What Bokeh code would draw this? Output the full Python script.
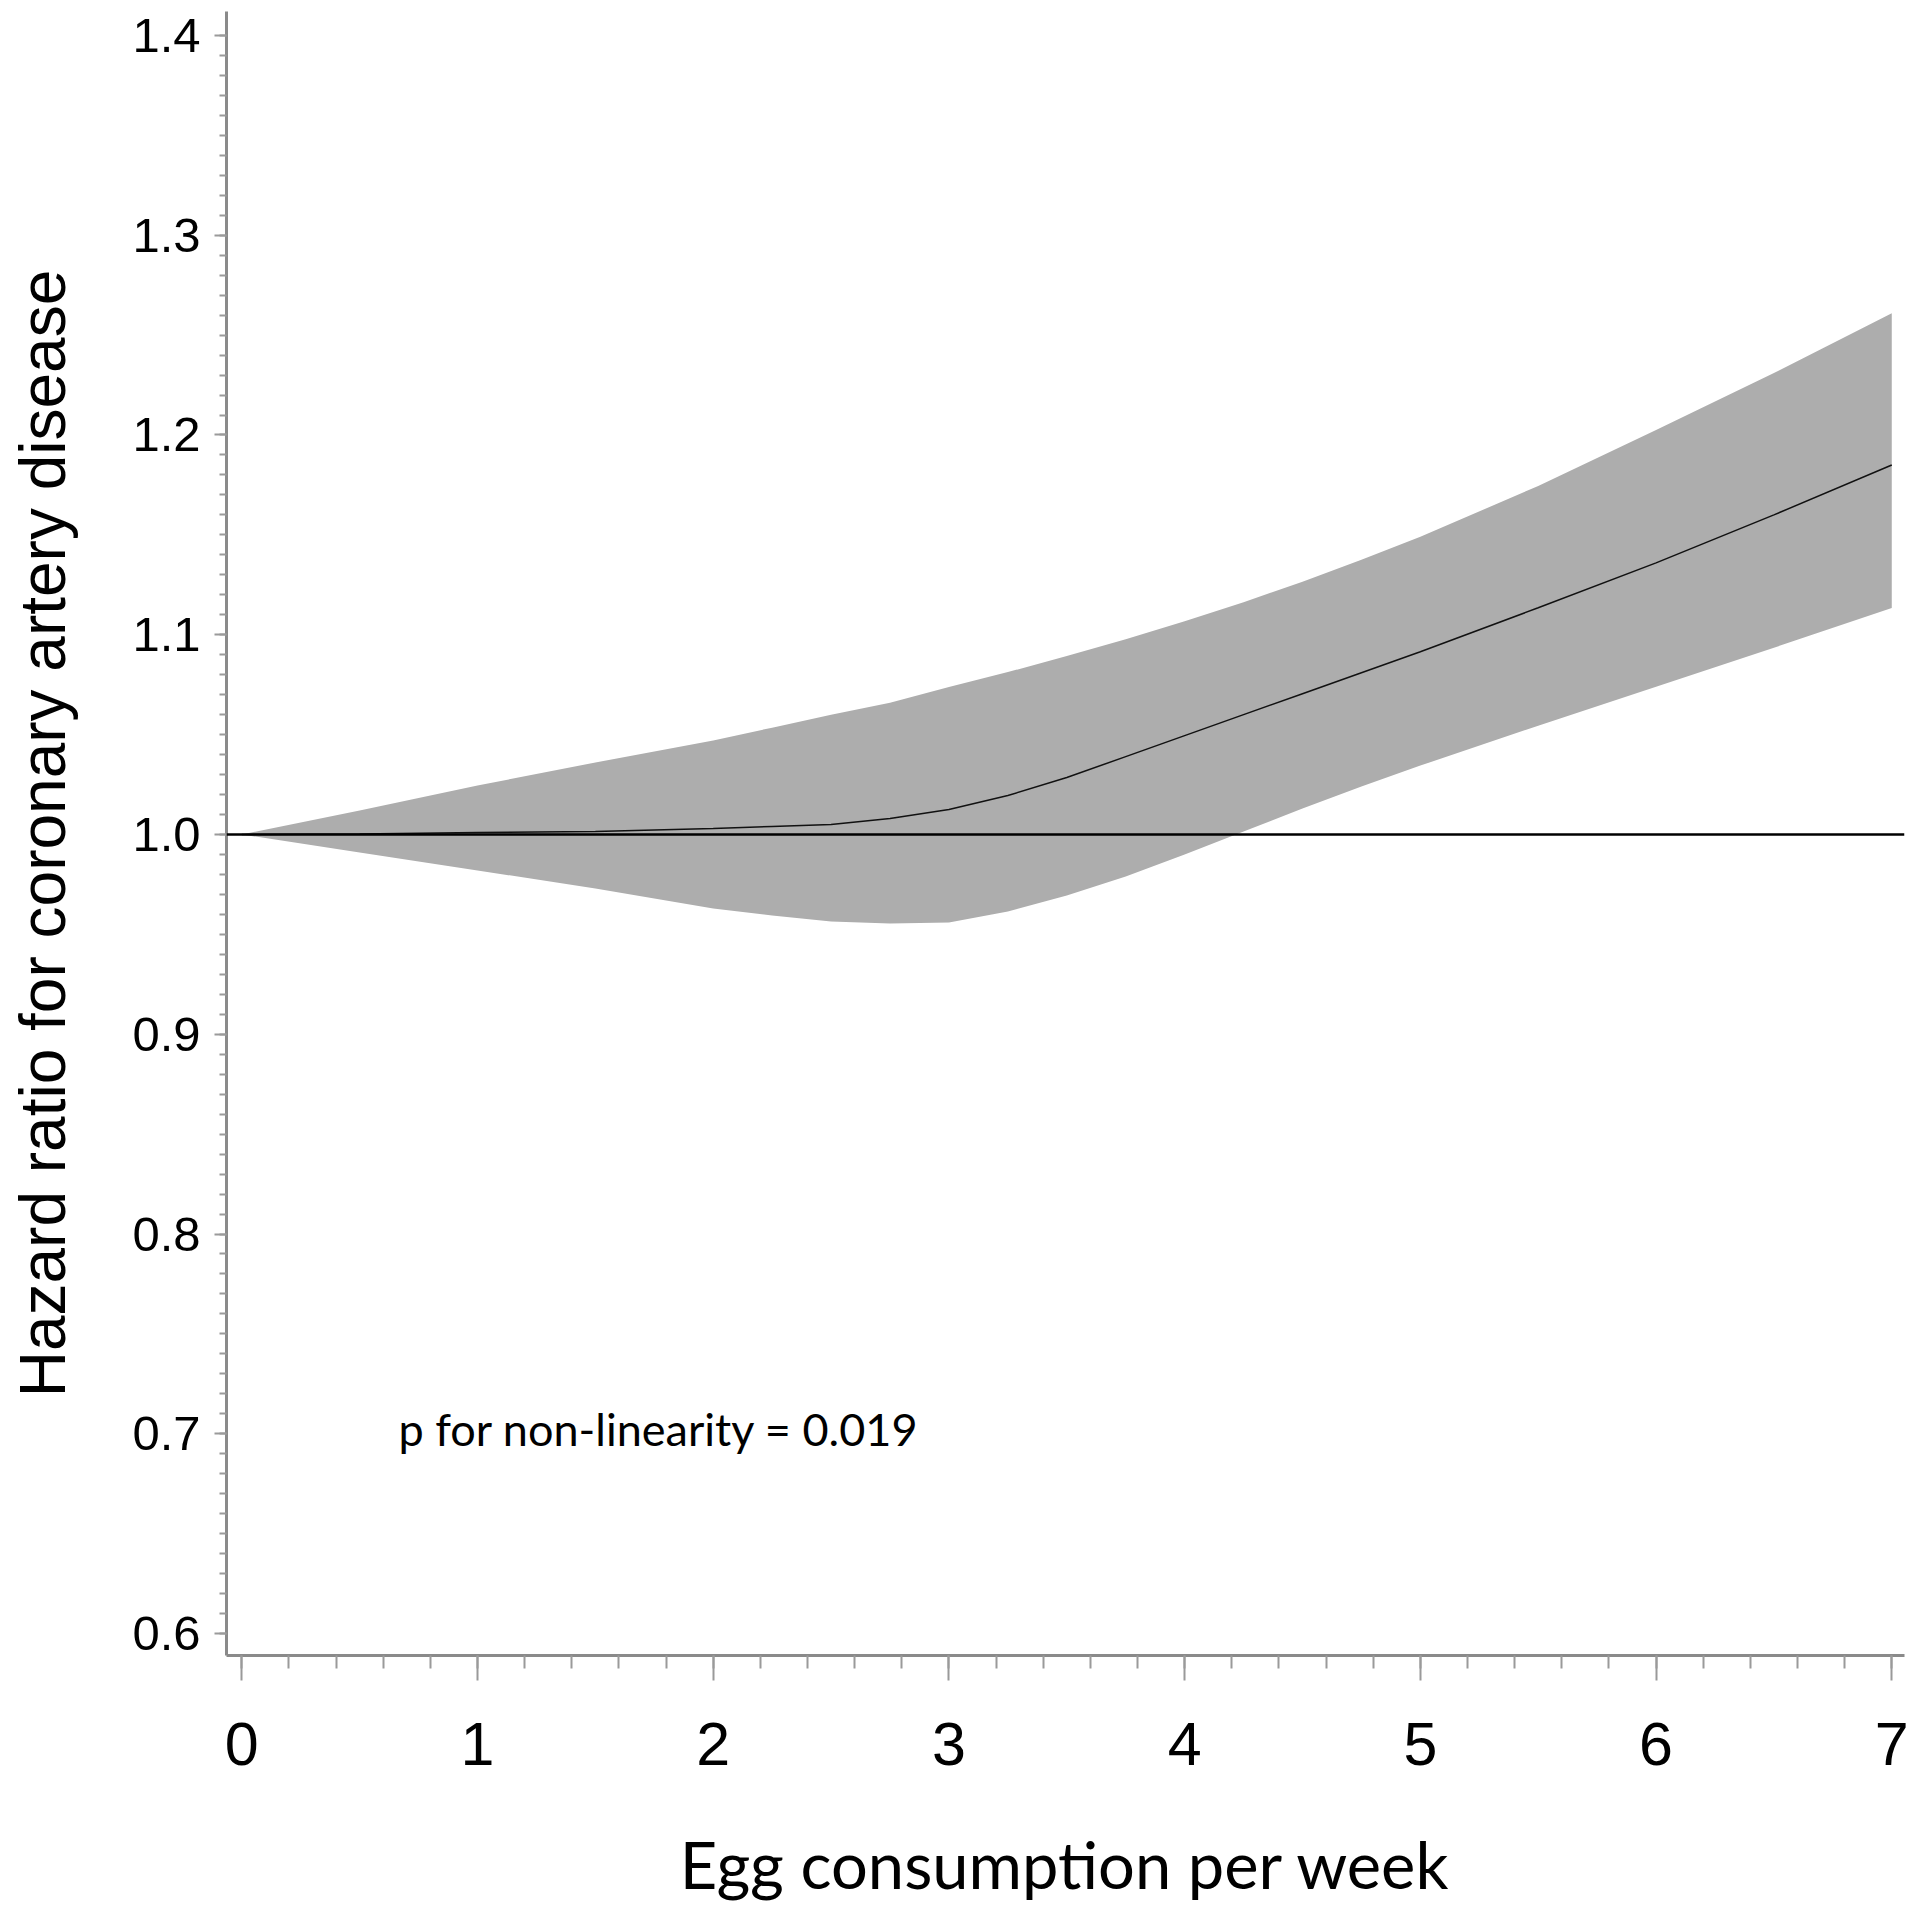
from bokeh.plotting import figure
from bokeh.models import Range1d, FixedTicker, PrintfTickFormatter, Span, Label
from bokeh.embed import file_html
from bokeh.resources import INLINE

# ---- data ----
egg_per_week = [0, 0.5, 1.0, 1.5, 2.0, 2.25, 2.5, 2.75, 3.0, 3.25, 3.5, 3.75, 4.0, 4.25, 4.5, 4.75, 5.0, 5.5, 6.0, 6.5, 7.0]
hr_estimate = [1.0, 1.0003, 1.001, 1.0015, 1.003, 1.004, 1.005, 1.008, 1.0125, 1.0195, 1.0285, 1.039, 1.0495, 1.060, 1.0705, 1.081, 1.0915, 1.1135, 1.136, 1.160, 1.185]
hr_upper = [1.0, 1.012, 1.0245, 1.036, 1.047, 1.0535, 1.060, 1.066, 1.0738, 1.0813, 1.0893, 1.0978, 1.1068, 1.1163, 1.1265, 1.1375, 1.149, 1.1745, 1.2025, 1.231, 1.261]
hr_lower = [1.0, 0.991, 0.982, 0.973, 0.963, 0.9595, 0.9565, 0.9555, 0.956, 0.9615, 0.9695, 0.979, 0.990, 1.0015, 1.013, 1.024, 1.0345, 1.0545, 1.074, 1.0935, 1.1134]

x_ticks = [0, 1, 2, 3, 4, 5, 6, 7]
x_minor_ticks = [round(i * 0.2, 1) for i in range(36)]
y_ticks = [0.6, 0.7, 0.8, 0.9, 1.0, 1.1, 1.2, 1.3, 1.4]
y_minor_ticks = [round(0.6 + i * 0.01, 2) for i in range(81)]

reference_hr = 1.0
x_title = "Egg consumption per week"
y_title = "Hazard ratio for coronary artery disease"
note_text = "p for non-linearity = 0.019"

X_START, X_END = -0.065, 7.054
Y_START, Y_END = 0.589, 1.412

# ---- figure ----
p = figure(width=1910, height=1908,
           x_range=Range1d(X_START, X_END), y_range=Range1d(Y_START, Y_END),
           output_backend="svg", toolbar_location=None,
           min_border_left=226, min_border_right=6,
           min_border_top=11, min_border_bottom=253)
p.outline_line_color = None
p.xgrid.visible = False
p.ygrid.visible = False
p.background_fill_color = "white"
p.border_fill_color = "white"

p.varea(x=egg_per_week, y1=hr_lower, y2=hr_upper, fill_color="#adadad", fill_alpha=1.0)
p.add_layout(Span(location=reference_hr, dimension="width", line_color="black", line_width=2.5))
p.line(egg_per_week, hr_estimate, line_color="#111111", line_width=1.5)

p.add_layout(Label(x=0.665, y=0.7025, text=note_text, text_font="Lato",
                   text_font_size="45px", text_color="black", text_baseline="alphabetic"))

axis_color = "#8a8a8a"
tick_color = "#9a9a9a"

xa = p.xaxis[0]
xa.ticker = FixedTicker(ticks=x_ticks, minor_ticks=x_minor_ticks)
xa.axis_line_color = axis_color
xa.axis_line_width = 3
xa.major_tick_line_color = tick_color
xa.minor_tick_line_color = tick_color
xa.major_tick_line_width = 2
xa.minor_tick_line_width = 2
xa.major_tick_in = 0
xa.major_tick_out = 25
xa.minor_tick_in = 0
xa.minor_tick_out = 13
xa.major_label_text_font = "Liberation Sans"
xa.major_label_text_font_size = "61px"
xa.major_label_text_color = "black"
xa.major_label_standoff = 42
xa.axis_label = x_title
xa.axis_label_text_font = "Lato"
xa.axis_label_text_font_size = "65px"
xa.axis_label_text_font_style = "normal"
xa.axis_label_text_color = "black"
xa.axis_label_standoff = 57

ya = p.yaxis[0]
ya.ticker = FixedTicker(ticks=y_ticks, minor_ticks=y_minor_ticks)
ya.formatter = PrintfTickFormatter(format="%.1f")
ya.axis_line_color = axis_color
ya.axis_line_width = 3
ya.major_tick_line_color = tick_color
ya.minor_tick_line_color = tick_color
ya.major_tick_line_width = 2
ya.minor_tick_line_width = 2
ya.major_tick_in = 0
ya.major_tick_out = 12
ya.minor_tick_in = 0
ya.minor_tick_out = 7
ya.major_label_text_font = "Liberation Sans"
ya.major_label_text_font_size = "49px"
ya.major_label_text_color = "black"
ya.major_label_standoff = 14
ya.axis_label = y_title
ya.axis_label_text_font = "Liberation Sans"
ya.axis_label_text_font_size = "64px"
ya.axis_label_text_font_style = "normal"
ya.axis_label_text_color = "black"
ya.axis_label_standoff = 50

open("out.html", "w").write(file_html(p, INLINE))
